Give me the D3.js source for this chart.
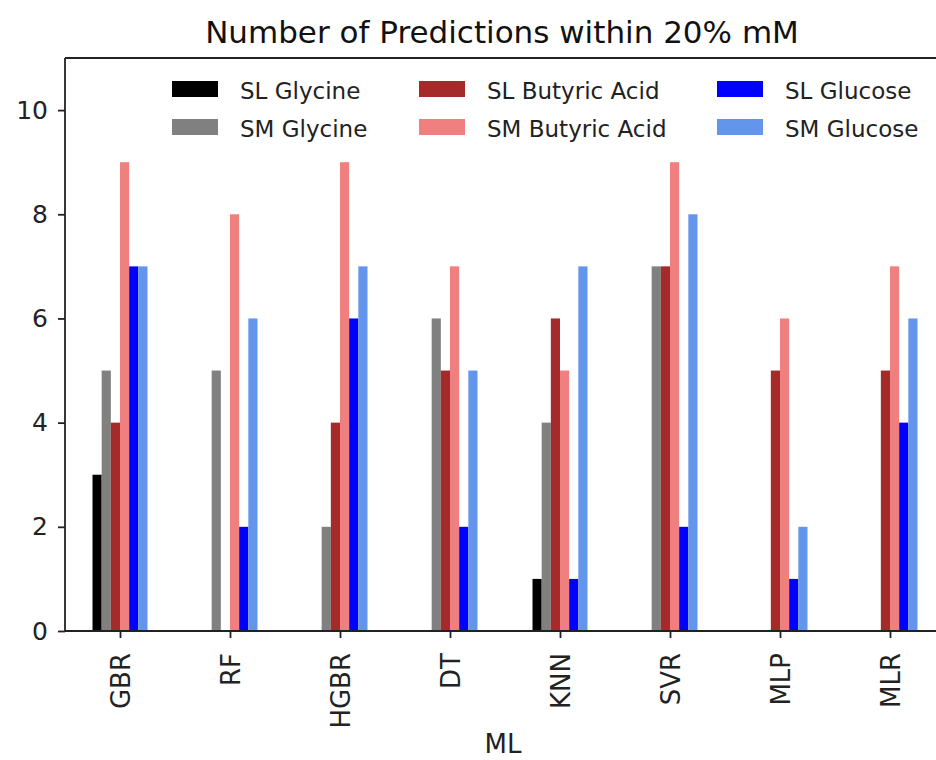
<!DOCTYPE html>
<html>
<head>
<meta charset="utf-8">
<script src="https://cdn.jsdelivr.net/npm/d3@7"></script>
<style>
  body { margin: 0; background: #fff; }
  svg { display: block; font-family: "DejaVu Sans", sans-serif; }
</style>
</head>
<body>
<svg id="chart" width="936" height="760"></svg>
<script>
(function () {
    'use strict';

    // data
    const models = ["GBR", "RF", "HGBR", "DT", "KNN", "SVR", "MLP", "MLR"];
    const seriesNames = ["SL Glycine", "SM Glycine", "SL Butyric Acid", "SM Butyric Acid", "SL Glucose", "SM Glucose"];
    const slGlycine = [3, 0, 0, 0, 1, 0, 0, 0];
    const smGlycine = [5, 5, 2, 6, 4, 7, 0, 0];
    const slButyric = [4, 0, 4, 5, 6, 7, 5, 5];
    const smButyric = [9, 8, 9, 7, 5, 9, 6, 7];
    const slGlucose = [7, 2, 6, 2, 1, 2, 1, 4];
    const smGlucose = [7, 6, 7, 5, 7, 8, 2, 6];
    const yTicks = [0, 2, 4, 6, 8, 10];
    const colors = ["#000000", "#808080", "#a52a2a", "#f08080", "#0000ff", "#6495ed"];

    const values = [slGlycine, smGlycine, slButyric, smButyric, slGlucose, smGlucose];

    const svg = d3.select("#chart");
    const left = 65, top = 58, bottom = 631;
    const plotW = 880; // axes run past the right edge of the picture

    // pandas style: categories at 0..n-1, xlim -0.5..n-0.5, bar group width 0.5
    const x = d3.scaleLinear().domain([-0.5, models.length - 0.5]).range([left, left + plotW]);
    const y = d3.scaleLinear().domain([0, 11]).range([bottom, top]);
    const groupW = 0.5;
    const barW = groupW / seriesNames.length;

    const g = svg.append("g");

    values.forEach(function (vals, si) {
        g.selectAll(null)
            .data(vals)
            .enter()
            .append("rect")
            .attr("x", (d, i) => x(i - groupW / 2 + si * barW))
            .attr("width", x(barW) - x(0))
            .attr("y", d => y(d))
            .attr("height", d => y(0) - y(d))
            .attr("fill", colors[si]);
    });

    // axes
    const yAxis = d3.axisLeft(y).tickValues(yTicks).tickSize(7).tickPadding(10).tickFormat(d3.format("d"));
    const yg = svg.append("g").attr("transform", `translate(${left},0)`).call(yAxis);
    yg.select(".domain").remove();
    yg.selectAll("line").attr("stroke", "#222").attr("stroke-width", 1.8);
    yg.selectAll("text").attr("font-size", 25).attr("fill", "#222").attr("font-family", "DejaVu Sans");

    const xAxis = d3.axisBottom(x).tickValues(d3.range(models.length)).tickFormat(i => models[i]).tickSize(7).tickPadding(6);
    const xg = svg.append("g").attr("transform", `translate(0,${bottom})`).call(xAxis);
    xg.select(".domain").remove();
    xg.selectAll("line").attr("stroke", "#222").attr("stroke-width", 1.8);
    xg.selectAll("text")
        .attr("font-size", 26)
        .attr("fill", "#222")
        .attr("font-family", "DejaVu Sans")
        .attr("transform", "rotate(-90)")
        .attr("text-anchor", "end")
        .attr("dy", "0.35em")
        .attr("x", -22)
        .attr("y", 0);

    // spines
    const spine = svg.append("g").attr("stroke", "#222").attr("stroke-width", 1.8).attr("fill", "none");
    spine.append("line").attr("x1", left).attr("x2", left).attr("y1", top).attr("y2", bottom);
    spine.append("line").attr("x1", left).attr("x2", left + plotW).attr("y1", top).attr("y2", top);
    spine.append("line").attr("x1", left).attr("x2", left + plotW).attr("y1", bottom).attr("y2", bottom);

    // title and axis label
    svg.append("text")
        .attr("x", 502).attr("y", 43)
        .attr("text-anchor", "middle")
        .attr("font-size", 31)
        .attr("fill", "#111")
        .text("Number of Predictions within 20% mM");

    svg.append("text")
        .attr("x", 503).attr("y", 753)
        .attr("text-anchor", "middle")
        .attr("font-size", 26)
        .attr("fill", "#222")
        .text("ML");

    // legend, 3 columns x 2 rows
    const colX = [172, 419, 717];
    const rowY = [89, 127];
    const legend = svg.append("g");
    seriesNames.forEach(function (name, i) {
        const cx = colX[Math.floor(i / 2)];
        const cy = rowY[i % 2];
        legend.append("rect")
            .attr("x", cx).attr("y", cy - 8)
            .attr("width", 46).attr("height", 16)
            .attr("fill", colors[i]);
        legend.append("text")
            .attr("x", cx + 68).attr("y", cy + 2)
            .attr("dy", "0.35em")
            .attr("font-size", 23)
            .attr("fill", "#222")
            .text(name);
    });
})();
</script>
</body>
</html>
